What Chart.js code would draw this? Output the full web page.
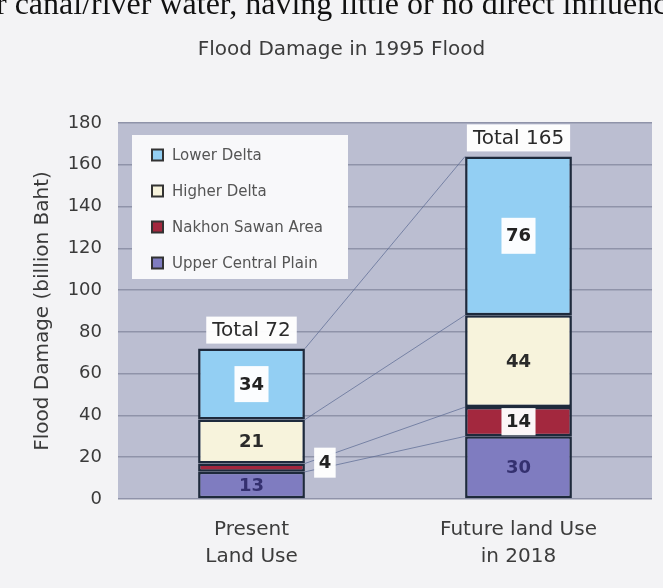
<!DOCTYPE html>
<html>
<head>
<meta charset="utf-8">
<script src="https://cdn.jsdelivr.net/npm/chart.js@4.4.1/dist/chart.umd.min.js"></script>
<style>
  html, body { margin: 0; padding: 0; background: #f3f3f5; overflow: hidden; }
  #wrap { position: relative; width: 663px; height: 588px; }
  #chart { position: absolute; left: 0; top: 0; }
  #docline { position: absolute; left: -4px; top: -13px; font: 32px/32px "Liberation Serif", serif; color: #111; white-space: nowrap; }
</style>
</head>
<body>
<div id="wrap">
  <canvas id="chart" width="663" height="588"></canvas>
  <div id="docline">r canal/river water, having little or no direct influence</div>
</div>
<script>
// data (billion Baht)
const categories = [['Present', 'Land Use'], ['Future land Use', 'in 2018']];
const upperCentralPlain = [13, 30];
const nakhonSawanArea = [4, 14];
const higherDelta = [21, 44];
const lowerDelta = [34, 76];
const totals = [72, 165];
const yMax = 180;
const yStep = 20;

const FONT = '"DejaVu Sans", sans-serif';

// how each series' value label is shown
const labelStyles = [
  { color: '#34306f', box: false },
  { color: '#222', box: true },
  { color: '#2a2a2a', box: false },
  { color: '#222', box: true }
];

// grey plot area
const plotBackground = {
  id: 'plotBackground',
  beforeDraw(chart) {
    const { ctx, chartArea: a } = chart;
    ctx.save();
    ctx.fillStyle = '#bbbed1';
    ctx.fillRect(a.left, a.top, a.right - a.left, a.bottom - a.top);
    ctx.restore();
  }
};

// thin lines joining the segment tops of the two bars
const connectors = {
  id: 'connectors',
  beforeDatasetsDraw(chart) {
    const { ctx } = chart;
    const y = chart.scales.y;
    let cum0 = 0, cum1 = 0;
    ctx.save();
    ctx.strokeStyle = 'rgba(95, 110, 150, 0.75)';
    ctx.lineWidth = 1;
    chart.data.datasets.forEach((ds, di) => {
      cum0 += ds.data[0];
      cum1 += ds.data[1];
      const meta = chart.getDatasetMeta(di);
      const b0 = meta.data[0], b1 = meta.data[1];
      ctx.beginPath();
      ctx.moveTo(b0.x + b0.width / 2, y.getPixelForValue(cum0));
      ctx.lineTo(b1.x - b1.width / 2, y.getPixelForValue(cum1));
      ctx.stroke();
    });
    ctx.restore();
  }
};

const segmentLabels = {
  id: 'segmentLabels',
  afterDatasetsDraw(chart) {
    const { ctx } = chart;
    ctx.save();
    ctx.textAlign = 'center';
    ctx.textBaseline = 'middle';
    ctx.font = 'bold 18px ' + FONT;
    chart.data.datasets.forEach((ds, di) => {
      const meta = chart.getDatasetMeta(di);
      const st = labelStyles[di];
      meta.data.forEach((bar, i) => {
        const h = bar.base - bar.y;
        const text = String(ds.data[i]);
        const tw = ctx.measureText(text).width;
        let cx = bar.x, cy = (bar.y + bar.base) / 2, boxed = st.box;
        let bw = tw + 9, bh = Math.min(36, h - 2);
        if (h < 20) {
          cx = bar.x + bar.width / 2 + 20;
          cy -= 5;
          boxed = true;
          bh = 30;
        }
        if (boxed) {
          ctx.fillStyle = 'rgba(255,255,255,0.96)';
          ctx.fillRect(cx - bw / 2, cy - bh / 2, bw, bh);
        }
        ctx.fillStyle = boxed ? '#222' : st.color;
        ctx.fillText(text, cx, cy + 1);
      });
    });
    // totals above the bars
    const top = chart.getDatasetMeta(chart.data.datasets.length - 1);
    ctx.font = '20px ' + FONT;
    top.data.forEach((bar, i) => {
      const text = 'Total ' + totals[i];
      const tw = ctx.measureText(text).width;
      const bh = 27;
      const by = bar.y - 5 - bh;
      ctx.fillStyle = 'rgba(255,255,255,0.96)';
      ctx.fillRect(bar.x - tw / 2 - 6, by, tw + 12, bh);
      ctx.fillStyle = '#2a2a2a';
      ctx.fillText(text, bar.x, by + bh / 2 + 1);
    });
    ctx.restore();
  }
};

// legend box inside the plot area
const boxLegend = {
  id: 'boxLegend',
  afterDraw(chart) {
    const { ctx, chartArea: a } = chart;
    const x0 = a.left + 14, y0 = a.top + 12;
    ctx.save();
    ctx.fillStyle = '#f8f8fa';
    ctx.fillRect(x0, y0, 216, 144);
    ctx.font = '15px ' + FONT;
    ctx.textAlign = 'left';
    ctx.textBaseline = 'middle';
    chart.data.datasets.slice().reverse().forEach((ds, k) => {
      const cy = y0 + 20 + k * 36;
      ctx.fillStyle = ds.backgroundColor;
      ctx.fillRect(x0 + 20, cy - 5.5, 11, 11);
      ctx.strokeStyle = '#333';
      ctx.lineWidth = 2;
      ctx.strokeRect(x0 + 20, cy - 5.5, 11, 11);
      ctx.fillStyle = '#555';
      ctx.fillText(ds.label, x0 + 40, cy + 1);
    });
    ctx.restore();
  }
};

const barStyle = {
  borderColor: '#1e2a3c',
  borderWidth: 2.5,
  borderSkipped: false,
  barPercentage: 0.4,
  categoryPercentage: 1
};

new Chart(document.getElementById('chart'), {
  type: 'bar',
  data: {
    labels: categories,
    datasets: [
      { label: 'Upper Central Plain', data: upperCentralPlain, backgroundColor: '#7f7cc0', ...barStyle },
      { label: 'Nakhon Sawan Area', data: nakhonSawanArea, backgroundColor: '#a3283e', ...barStyle },
      { label: 'Higher Delta', data: higherDelta, backgroundColor: '#f7f3dc', ...barStyle },
      { label: 'Lower Delta', data: lowerDelta, backgroundColor: '#93cff3', ...barStyle }
    ]
  },
  options: {
    responsive: false,
    animation: false,
    events: [],
    layout: { padding: { left: 31, right: 11, top: 38, bottom: 0 } },
    plugins: {
      legend: { display: false },
      tooltip: { enabled: false },
      title: {
        display: true,
        text: 'Flood Damage in 1995 Flood',
        color: '#3c3c3c',
        font: { family: FONT, size: 20, weight: 'normal' },
        padding: { top: 0, bottom: 61 }
      }
    },
    scales: {
      x: {
        stacked: true,
        grid: { display: false },
        border: { display: false },
        ticks: {
          color: '#3c3c3c',
          padding: 9,
          font: { family: FONT, size: 20, lineHeight: 1.35 }
        },
        afterFit(scale) { scale.height = 89; }
      },
      y: {
        stacked: true,
        min: 0,
        max: yMax,
        border: { display: false },
        grid: { color: '#8f93a9', lineWidth: 1.5, drawTicks: false },
        ticks: {
          stepSize: yStep,
          color: '#3a3a3a',
          padding: 16,
          font: { family: FONT, size: 18 }
        },
        title: {
          display: true,
          text: 'Flood Damage (billion Baht)',
          color: '#3a3a3a',
          font: { family: FONT, size: 20 },
          padding: { top: 0, bottom: 13 }
        },
        afterFit(scale) { scale.width = 87; }
      }
    }
  },
  plugins: [plotBackground, connectors, segmentLabels, boxLegend]
});
</script>
</body>
</html>
